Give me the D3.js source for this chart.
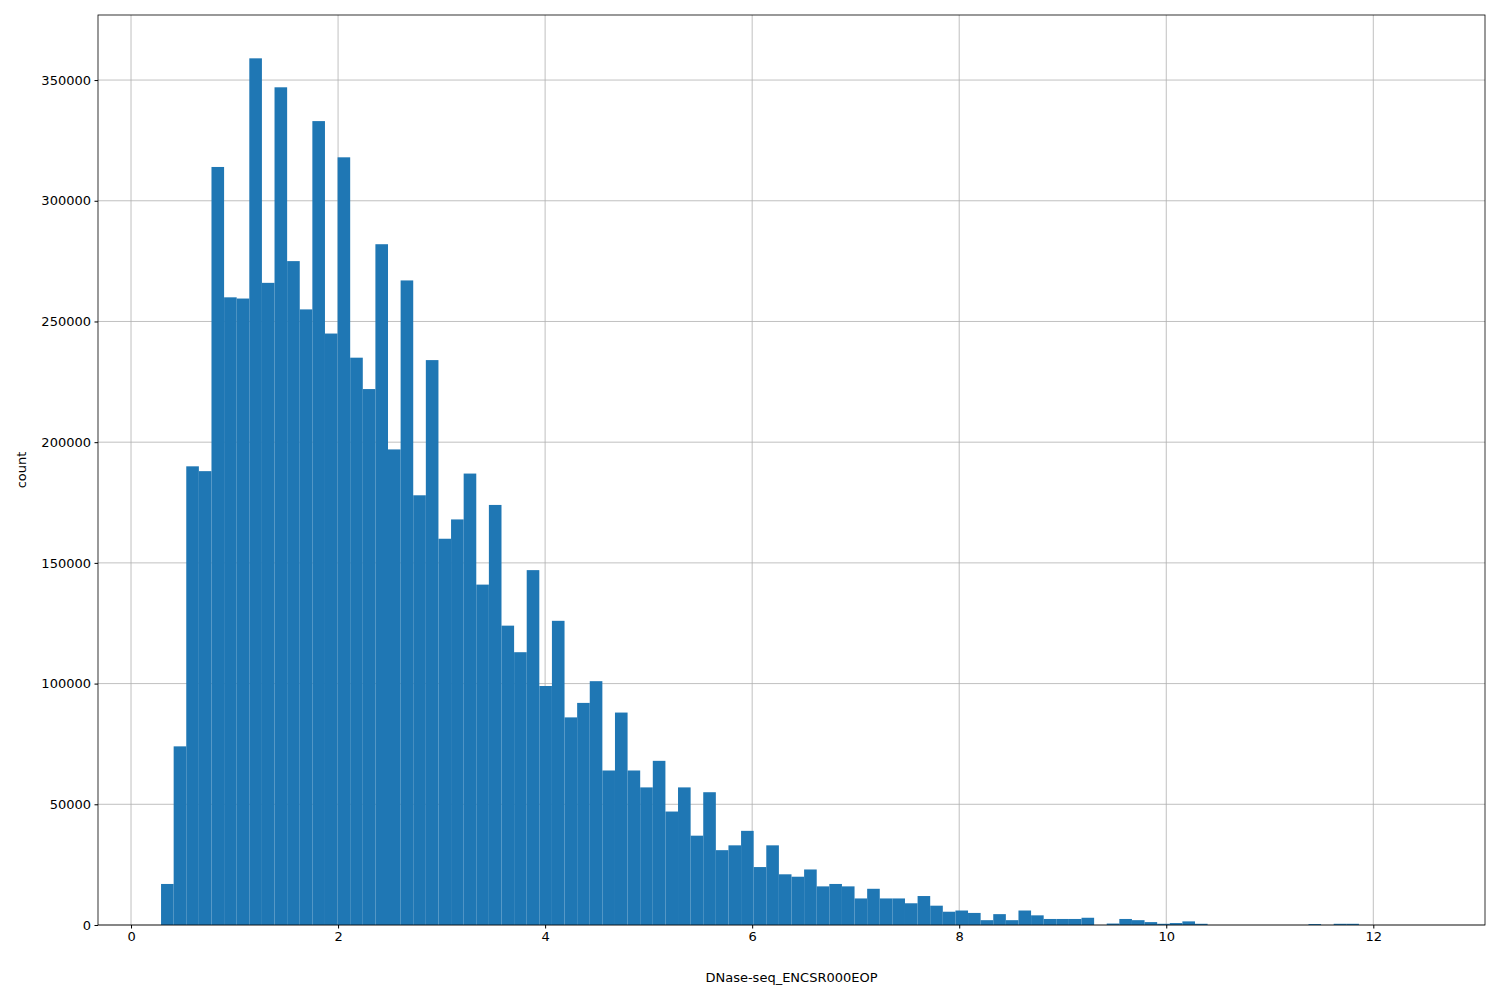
<!DOCTYPE html>
<html><head><meta charset="utf-8">
<script src="https://cdn.jsdelivr.net/npm/d3@7"></script>
<style>body{margin:0;background:#fff}text{font-family:"DejaVu Sans",sans-serif}</style>
</head><body>
<div id="chart"></div>
<script>
// histogram of DNase-seq signal, 100 bins from 0.29 to 12.47
let binStart = 0.29;
let binEnd = 12.47;
let counts = [17000,74000,190000,188000,314000,260000,259500,359000,266000,347000,
  275000,255000,333000,245000,318000,235000,222000,282000,197000,267000,
  178000,234000,160000,168000,187000,141000,174000,124000,113000,147000,
  99000,126000,86000,92000,101000,64000,88000,64000,57000,68000,
  47000,57000,37000,55000,31000,33000,39000,24000,33000,21000,
  20000,23000,16000,17000,16000,11000,15000,11000,11000,9000,
  12000,8000,5500,6000,5000,2000,4500,2000,6000,4000,
  2500,2500,2500,3000,0,600,2500,2000,1200,500,
  800,1500,500,0,0,0,0,0,0,0,
  0,400,0,500,500,0,0,0,0,0];
let xTicks = [0,2,4,6,8,10,12];
let yTicks = [0,50000,100000,150000,200000,250000,300000,350000];

let svgWidth = 1500, svgHeight = 1000;
let margin = {top:15, right:15, bottom:75, left:98};
let width = svgWidth - margin.left - margin.right;
let height = svgHeight - margin.top - margin.bottom;
let bw = (binEnd - binStart) / counts.length;
let pad = 0.05 * (binEnd - binStart);

let svg = d3.select("#chart").append("svg").attr("width", svgWidth).attr("height", svgHeight);
let g = svg.append("g").attr("transform", `translate(${margin.left},${margin.top})`);

let x = d3.scaleLinear().domain([binStart - pad, binEnd + pad]).range([0, width]);
let y = d3.scaleLinear().domain([0, d3.max(counts) * 1.05]).range([height, 0]);

// grid
g.selectAll(".gx").data(xTicks).enter().append("line")
  .attr("x1", d => x(d)).attr("x2", d => x(d)).attr("y1", 0).attr("y2", height)
  .attr("stroke", "#b0b0b0").attr("stroke-width", 0.8);
g.selectAll(".gy").data(yTicks).enter().append("line")
  .attr("y1", d => y(d)).attr("y2", d => y(d)).attr("x1", 0).attr("x2", width)
  .attr("stroke", "#b0b0b0").attr("stroke-width", 0.8);

g.selectAll("rect.bar").data(counts).enter().append("rect")
  .attr("x", (d, i) => x(binStart + i * bw))
  .attr("width", x(binStart + bw) - x(binStart))
  .attr("y", d => y(d)).attr("height", d => height - y(d))
  .attr("fill", "#1f77b4");

let xAxis = g.append("g").attr("transform", `translate(0,${height})`)
  .call(d3.axisBottom(x).tickValues(xTicks).tickSize(3.5).tickPadding(3.5).tickFormat(d3.format("d")));
let yAxis = g.append("g")
  .call(d3.axisLeft(y).tickValues(yTicks).tickSize(3.5).tickPadding(3.5).tickFormat(d3.format("d")));
[xAxis, yAxis].forEach(a => {
  a.select(".domain").remove();
  a.selectAll("text").attr("font-size", 13).attr("fill", "#000");
  a.selectAll("line").attr("stroke", "#000");
});

g.append("rect").attr("width", width).attr("height", height)
  .attr("fill", "none").attr("stroke", "#000").attr("stroke-width", 0.8);

svg.append("text").attr("x", margin.left + width / 2).attr("y", 982)
  .attr("text-anchor", "middle").attr("font-size", 13).text("DNase-seq_ENCSR000EOP");
svg.append("text").attr("transform", `translate(26,${margin.top + height / 2}) rotate(-90)`)
  .attr("text-anchor", "middle").attr("font-size", 13).text("count");
</script>
</body></html>
